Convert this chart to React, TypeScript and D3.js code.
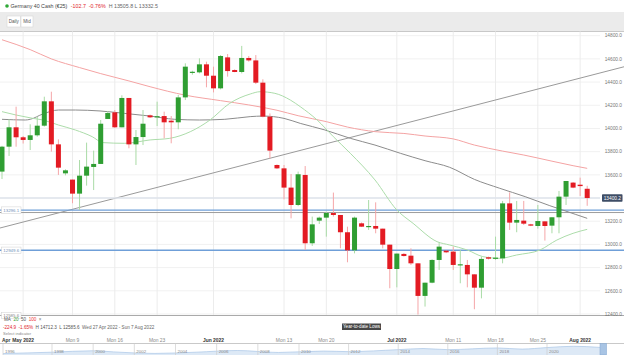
import * as d3 from 'd3';
import { useEffect, useRef } from 'react';

// daily candles, Wed 27 Apr 2022 .. Tue 2 Aug 2022 (Sun-Fri sessions)
const opens = [13628, 13843, 14010, 13924, 13901, 13941, 14024, 14234, 13863, 13613, 13559, 13438, 13593, 13668, 13694, 14082, 14139, 14010, 14263, 13863, 13926, 14113, 14100, 14107, 14067, 14053, 14268, 14481, 14484, 14553, 14455, 14346, 14613, 14504, 14487, 14608, 14587, 14395, 14102, 13685, 13656, 13490, 13340, 13599, 13010, 13205, 13231, 13271, 13254, 13105, 12949, 13182, 13150, 13159, 13136, 12998, 12788, 12918, 12903, 12837, 12556, 12670, 12866, 12946, 12938, 12820, 12823, 12742, 12627, 12889, 12877, 12880, 13354, 13188, 13205, 13173, 13159, 13199, 13162, 13234, 13412, 13533, 13515, 13480];
const highs = [13850, 14079, 14188, 13935, 14036, 14102, 14274, 14317, 13906, 13648, 13559, 13728, 13878, 13809, 14073, 14150, 14159, 14286, 14263, 13987, 14159, 14120, 14231, 14145, 14107, 14289, 14562, 14498, 14605, 14576, 14533, 14633, 14642, 14510, 14712, 14625, 14633, 14424, 14130, 13690, 13685, 13607, 13628, 13676, 13240, 13240, 13283, 13447, 13254, 13153, 13240, 13190, 13383, 13363, 13136, 12998, 12921, 12925, 12966, 12837, 12670, 12872, 13018, 12950, 12981, 12952, 12866, 12742, 12895, 12895, 13067, 13375, 13449, 13375, 13375, 13178, 13340, 13199, 13234, 13461, 13547, 13538, 13576, 13506];
const lows = [13564, 13763, 13843, 13870, 13814, 13929, 14016, 13800, 13599, 13596, 13355, 13297, 13507, 13469, 13694, 14082, 14005, 14010, 13829, 13685, 13857, 14090, 14021, 13915, 13872, 13993, 14245, 14464, 14475, 14355, 14311, 14337, 14447, 14485, 14475, 14576, 14383, 14096, 13742, 13650, 13389, 13225, 13330, 12952, 12987, 13176, 13067, 13240, 12967, 12846, 12923, 13150, 13125, 13096, 12966, 12622, 12630, 12895, 12823, 12395, 12464, 12665, 12780, 12925, 12780, 12665, 12630, 12441, 12535, 12870, 12866, 12837, 13125, 13105, 13168, 13158, 13136, 13033, 13096, 13096, 13340, 13485, 13418, 13333];
const closes = [13843, 14010, 13924, 13901, 13941, 14024, 14234, 13863, 13662, 13639, 13438, 13593, 13671, 13694, 14041, 14133, 14010, 14263, 13863, 13926, 14041, 14096, 14106, 14053, 14053, 14268, 14533, 14489, 14553, 14455, 14346, 14625, 14495, 14487, 14608, 14587, 14395, 14102, 13809, 13656, 13490, 13340, 13605, 13010, 13173, 13231, 13271, 13254, 13105, 12949, 13231, 13153, 13159, 13136, 12998, 12788, 12921, 12900, 12837, 12556, 12670, 12866, 12981, 12932, 12823, 12829, 12742, 12627, 12875, 12877, 12886, 13354, 13188, 13211, 13179, 13162, 13202, 13159, 13234, 13412, 13547, 13490, 13503, 13400.2];

// moving averages: [candle index, value]
const ma20 = [[0, 14145], [2, 14116], [4.4, 14087], [5.8, 14073], [8, 14030], [10.4, 13987], [12.8, 13929], [14.3, 13878], [17.4, 13872], [21, 13901], [23.8, 13915], [26.7, 13972], [29.5, 14073], [32.3, 14217], [35.2, 14297], [36.6, 14317], [38.7, 14303], [40.9, 14245], [42.3, 14188], [44.7, 14073], [47, 13929], [49.4, 13786], [52.9, 13556], [56, 13297], [58.3, 13182], [61.7, 13024], [63.5, 12995], [66, 12952], [68.2, 12895], [70.6, 12880], [73, 12909], [76.3, 12952], [78.7, 13038], [81, 13096], [83, 13130]];
const ma50 = [[0, 14079], [3.3, 14073], [4, 14079], [5.8, 14125], [8, 14159], [10.4, 14159], [13.9, 14151], [17.4, 14130], [21, 14107], [24.5, 14079], [28, 14073], [31.6, 14079], [35.2, 14102], [37, 14107], [40, 14087], [42.3, 14044], [45.8, 13987], [49.4, 13915], [52.9, 13857], [56.5, 13786], [60, 13722], [63.5, 13665], [67, 13561], [70.6, 13484], [74.2, 13412], [77.7, 13334], [81.3, 13260], [83, 13225]];
const ma100 = [[0, 14765], [4, 14680], [7, 14600], [11, 14525], [14, 14473], [18, 14410], [21, 14360], [26, 14287], [31, 14240], [35, 14203], [39, 14157], [42, 14110], [46, 14059], [49, 14012], [53, 13972], [57, 13957], [60, 13935], [64, 13910], [67, 13857], [71, 13805], [74, 13771], [78, 13718], [81, 13679], [83, 13656]];

const trend = [[0, 13146], [83, 14450]];
const supportLevels = [13296.1, 12949.6];
const grayLevel = 13275;
const lastPrice = 13400.2;
const ytdLow = 12585.6;

const yTicks = [12400, 12600, 12800, 13000, 13200, 13400, 13600, 13800, 14000, 14200, 14400, 14600, 14800];
const xTickIdx = [-4, 3, 10, 16, 22, 30, 40, 46, 56, 64, 70, 76, 82];
const xTickLabels = ["Apr", "May 2022", "Mon 9", "Mon 16", "Mon 23", "Jun 2022", "Mon 13", "Mon 20", "Jul 2022", "Mon 11", "Mon 18", "Mon 25", "Aug 2022"];
const xTickMonth = [true, true, false, false, false, true, false, false, true, false, false, false, true];

const navYears = [1996, 1998, 2000, 2002, 2004, 2006, 2008, 2010, 2012, 2014, 2016, 2018, 2020];
const navHistory = [[1996, 2500], [1998, 5000], [2000, 7500], [2001, 5500], [2003, 2800], [2005, 5000], [2007, 8000], [2009, 4500], [2011, 7000], [2012, 6000], [2014, 9500], [2015, 11500], [2016, 9500], [2018, 12500], [2019, 10500], [2020, 13200], [2021, 15500], [2022, 13500]];

const FONT = 'Liberation Sans, Arial, sans-serif';

function App() {
    const svgRef = useRef(null);

    useEffect(() => {
        const svg = d3.select(svgRef.current);
        svg.selectAll('*').remove();

        const W = 624, H = 355;
        const top = 31.5, bottom = 315.5;

        const x = d3.scaleLinear().domain([0, 83]).range([2, 587.2]);
        const y = d3.scaleLinear().domain([12400, 14800]).range([314, 35.7]);

        svg.append('rect').attr('width', W).attr('height', H).attr('fill', '#fff');

        // header
        svg.append('circle').attr('cx', 7).attr('cy', 6).attr('r', 1.8).attr('fill', '#2ea836');
        const head = svg.append('text').attr('x', 10.5).attr('y', 7.8)
            .attr('font-family', FONT).attr('font-size', 5.3);
        head.append('tspan').attr('fill', '#444').text('Germany 40 Cash (€25)');
        head.append('tspan').attr('fill', '#e0262b').attr('dx', 3.5).text('-102.7');
        head.append('tspan').attr('fill', '#e0262b').attr('dx', 3).text('-0.76%');
        head.append('tspan').attr('fill', '#666').attr('dx', 3).text('H 13505.8 L 13332.5');

        // toolbar band
        svg.append('rect').attr('x', 0).attr('y', 12).attr('width', W).attr('height', top - 12).attr('fill', '#ebebeb');
        svg.append('line').attr('x1', 0).attr('x2', W).attr('y1', top).attr('y2', top).attr('stroke', '#c8c8c8');
        [['Daily', 7, 13.5], ['Mid', 21, 12]].forEach(([t, bx, bw]) => {
            svg.append('rect').attr('x', bx).attr('y', 16).attr('width', bw).attr('height', 11)
                .attr('fill', '#fff').attr('stroke', '#d6d6d6').attr('stroke-width', 0.6);
            svg.append('text').attr('x', (bx as number) + (bw as number) / 2).attr('y', 23.3)
                .attr('text-anchor', 'middle').attr('font-family', FONT).attr('font-size', 4.6)
                .attr('fill', '#555').text(t as string);
        });

        const plot = svg.append('g');
        plot.append('clipPath').attr('id', 'plotClip')
            .append('rect').attr('x', 0).attr('y', top).attr('width', W).attr('height', bottom - top);

        // grid
        plot.selectAll('.hgrid').data(yTicks).enter().append('line')
            .attr('x1', 0).attr('x2', 600).attr('y1', d => y(d)).attr('y2', d => y(d))
            .attr('stroke', '#f1f1f1').attr('stroke-width', 1);
        plot.selectAll('.vgrid').data(xTickIdx.slice(1)).enter().append('line')
            .attr('x1', d => x(d)).attr('x2', d => x(d)).attr('y1', top).attr('y2', bottom)
            .attr('stroke', '#ececec').attr('stroke-width', 1);

        const g = plot.append('g').attr('clip-path', 'url(#plotClip)');

        // trend line
        const tSlope = (trend[1][1] - trend[0][1]) / (trend[1][0] - trend[0][0]);
        const i0 = x.invert(0), i1 = x.invert(W);
        g.append('line')
            .attr('x1', 0).attr('y1', y(trend[0][1] + tSlope * (i0 - trend[0][0])))
            .attr('x2', W).attr('y2', y(trend[0][1] + tSlope * (i1 - trend[0][0])))
            .attr('stroke', '#9a9a9a').attr('stroke-width', 1);

        // last price line
        g.append('line').attr('x1', 0).attr('x2', 600).attr('y1', y(lastPrice)).attr('y2', y(lastPrice))
            .attr('stroke', '#dfe5ec').attr('stroke-width', 1.6);

        // horizontal levels
        g.append('line').attr('x1', 0).attr('x2', W).attr('y1', y(grayLevel)).attr('y2', y(grayLevel))
            .attr('stroke', '#9c9c9c').attr('stroke-width', 1);
        g.selectAll('.level').data(supportLevels).enter().append('line')
            .attr('x1', 0).attr('x2', W).attr('y1', d => y(d)).attr('y2', d => y(d))
            .attr('stroke', '#6f9fd8').attr('stroke-width', 1.3);

        // moving averages
        const maLine = d3.line().x(d => x(d[0])).y(d => y(d[1])).curve(d3.curveMonotoneX);
        g.append('path').attr('d', maLine(ma100)).attr('fill', 'none').attr('stroke', '#f4a3a3').attr('stroke-width', 1);
        g.append('path').attr('d', maLine(ma50)).attr('fill', 'none').attr('stroke', '#8c8c8c').attr('stroke-width', 1);
        g.append('path').attr('d', maLine(ma20)).attr('fill', 'none').attr('stroke', '#acdcaa').attr('stroke-width', 1);

        // candles
        const idx = d3.range(opens.length);
        const up = i => closes[i] >= opens[i];
        g.selectAll('.wick').data(idx).enter().append('line')
            .attr('x1', i => x(i)).attr('x2', i => x(i))
            .attr('y1', i => y(highs[i])).attr('y2', i => y(lows[i]))
            .attr('stroke', i => up(i) ? '#a9dba6' : '#f5a6a8').attr('stroke-width', 1);
        g.selectAll('.body').data(idx).enter().append('rect')
            .attr('x', i => x(i) - 2.5).attr('width', 5)
            .attr('y', i => y(Math.max(opens[i], closes[i])))
            .attr('height', i => Math.max(1.2, Math.abs(y(opens[i]) - y(closes[i]))))
            .attr('fill', i => up(i) ? '#2f9e32' : '#e31b23');

        // bottom border
        svg.append('line').attr('x1', 0).attr('x2', W).attr('y1', bottom).attr('y2', bottom)
            .attr('stroke', '#aaa').attr('stroke-width', 1);

        // right axis
        svg.selectAll('.ytick').data(yTicks).enter().append('text')
            .attr('x', 622).attr('y', d => y(d) + 1.7).attr('text-anchor', 'end')
            .attr('font-family', FONT).attr('font-size', 4.8).attr('fill', '#777')
            .text(d => d3.format('.1f')(d));
        svg.append('rect').attr('x', 602).attr('y', y(lastPrice) - 3.8).attr('width', 20.5).attr('height', 7.6)
            .attr('rx', 0.8).attr('fill', '#3e4d66');
        svg.append('text').attr('x', 621).attr('y', y(lastPrice) + 1.7).attr('text-anchor', 'end')
            .attr('font-family', FONT).attr('font-size', 4.8).attr('fill', '#fff').text(d3.format('.1f')(lastPrice));

        // left level labels
        [...supportLevels, ytdLow].forEach((v, k) => {
            const ly = k < 2 ? y(v) : bottom;
            svg.append('rect').attr('x', 1.5).attr('y', ly - 3.2).attr('width', 19.5).attr('height', 6.4)
                .attr('fill', '#fff').attr('stroke', '#cfcfcf').attr('stroke-width', 0.5);
            svg.append('text').attr('x', 11.2).attr('y', ly + 1.5).attr('text-anchor', 'middle')
                .attr('font-family', FONT).attr('font-size', 4.4).attr('fill', k < 2 ? '#6f8fb8' : '#888')
                .text(d3.format('.1f')(v));
        });

        // legend
        const leg = svg.append('text').attr('x', 4).attr('y', 321).attr('font-family', FONT).attr('font-size', 4.6);
        leg.append('tspan').attr('fill', '#555').text('MA');
        leg.append('tspan').attr('fill', '#3aa33a').attr('dx', 2.5).text('20');
        leg.append('tspan').attr('fill', '#555').attr('dx', 2.5).text('50');
        leg.append('tspan').attr('fill', '#e33').attr('dx', 2.5).text('100');
        leg.append('tspan').attr('fill', '#777').attr('dx', 2.5).text('×');
        const leg2 = svg.append('text').attr('x', 3).attr('y', 328.5).attr('font-family', FONT).attr('font-size', 4.6);
        leg2.append('tspan').attr('fill', '#e0262b').text('-224.9');
        leg2.append('tspan').attr('fill', '#e0262b').attr('dx', 2.5).text('-1.65%');
        leg2.append('tspan').attr('fill', '#555').attr('dx', 2.5).text('H 14712.3');
        leg2.append('tspan').attr('fill', '#555').attr('dx', 2.5).text('L 12585.6');
        leg2.append('tspan').attr('fill', '#666').attr('dx', 2.5).text('Wed 27 Apr 2022 - Sun 7 Aug 2022');
        svg.append('text').attr('x', 3).attr('y', 335).attr('font-family', FONT).attr('font-size', 4.1)
            .attr('fill', '#888').text('Select indicator');

        // Year-to-date lows tag
        svg.append('rect').attr('x', 342).attr('y', 323.5).attr('width', 39).attr('height', 6.5).attr('fill', '#474747');
        svg.append('text').attr('x', 361.5).attr('y', 328.4).attr('text-anchor', 'middle')
            .attr('font-family', FONT).attr('font-size', 4.6).attr('fill', '#fff').text('Year-to-date Lows');

        // x axis labels
        svg.selectAll('.xtick').data(xTickIdx).enter().append('text')
            .attr('x', (d, k) => k === 0 ? 2 : x(d))
            .attr('y', 341.5)
            .attr('text-anchor', (d, k) => k === 0 ? 'start' : 'middle')
            .attr('font-family', FONT).attr('font-size', 4.9)
            .attr('font-weight', (d, k) => xTickMonth[k] ? 'bold' : 'normal')
            .attr('fill', (d, k) => xTickMonth[k] ? '#333' : '#888')
            .text((d, k) => xTickLabels[k]);

        // navigator
        const navTop = 343.5;
        svg.append('line').attr('x1', 0).attr('x2', W).attr('y1', navTop).attr('y2', navTop).attr('stroke', '#c9c9c9');
        const nx = d3.scaleLinear().domain([1996, 1998, 2010, 2020, 2022]).range([3, 52, 299, 547, 600]);
        const ny = d3.scaleLinear().domain([0, 16000]).range([355, 346]);
        const navArea = d3.area().x(d => nx(d[0])).y0(355).y1(d => ny(d[1])).curve(d3.curveMonotoneX);
        svg.append('path').attr('d', navArea(navHistory)).attr('fill', '#dde9f6');
        svg.append('path').attr('d', d3.line().x(d => nx(d[0])).y(d => ny(d[1])).curve(d3.curveMonotoneX)(navHistory))
            .attr('fill', 'none').attr('stroke', '#a9c6e6').attr('stroke-width', 0.7);
        svg.selectAll('.navsep').data(navYears).enter().append('line')
            .attr('x1', d => nx(d)).attr('x2', d => nx(d)).attr('y1', navTop).attr('y2', H)
            .attr('stroke', '#cfcfcf').attr('stroke-width', 0.7);
        svg.selectAll('.navyr').data(navYears).enter().append('text')
            .attr('x', d => nx(d) + 2).attr('y', 353).attr('font-family', FONT).attr('font-size', 4.4)
            .attr('fill', '#888').text(d => d);
        svg.append('rect').attr('x', 600).attr('y', navTop).attr('width', 6.5).attr('height', H - navTop)
            .attr('fill', '#a8c4e4').attr('stroke', '#7fa3cf').attr('stroke-width', 0.5);
        svg.append('rect').attr('x', 607).attr('y', navTop + 0.5).attr('width', W - 607).attr('height', H - navTop)
            .attr('fill', '#fff');

        return () => { svg.selectAll('*').remove(); };
    }, []);

    return (
        <svg ref={svgRef} width={624} height={355}
            style={{ position: 'absolute', left: 0, top: 0, display: 'block' }} />
    );
}

export default App;
